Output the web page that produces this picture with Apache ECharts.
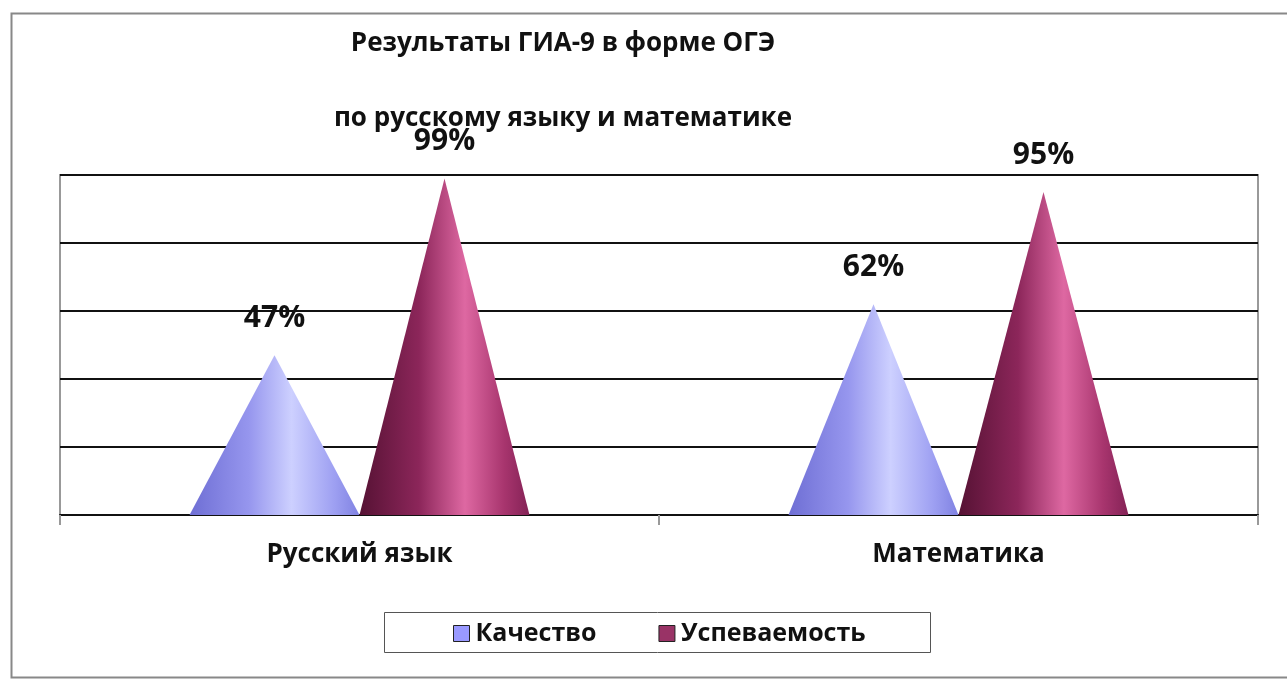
<!DOCTYPE html>
<html>
<head>
<meta charset="utf-8">
<script src="https://cdn.jsdelivr.net/npm/echarts@6/dist/echarts.min.js"></script>
<style>
  html, body { margin: 0; padding: 0; background: #fff; }
  #main { width: 1287px; height: 679px; }
</style>
</head>
<body>
<div id="main"></div>
<script>
// данные диаграммы
const categories = ['Русский язык', 'Математика']
const quality = [47, 62]       // Качество
const success = [99, 95]       // Успеваемость
const seriesNames = ['Качество', 'Успеваемость']

const font = '"Open Sans", "Noto Sans", sans-serif'

// градиенты конусов
const blueCone = new echarts.graphic.LinearGradient(0, 0, 1, 0, [
  { offset: 0, color: '#6e6ed4' },
  { offset: 0.35, color: '#9696ee' },
  { offset: 0.6, color: '#cdd0ff' },
  { offset: 0.85, color: '#9ea0f2' },
  { offset: 1, color: '#8082e2' }
])
const maroonCone = new echarts.graphic.LinearGradient(0, 0, 1, 0, [
  { offset: 0, color: '#561234' },
  { offset: 0.35, color: '#8c265a' },
  { offset: 0.62, color: '#de68a2' },
  { offset: 0.85, color: '#a8356e' },
  { offset: 1, color: '#842256' }
])

const valueLabel = {
  show: true,
  position: 'top',
  distance: 22,
  formatter: '{c}%',
  fontFamily: font,
  fontSize: 30,
  fontWeight: 'bold',
  color: '#111'
}

const chart = echarts.init(document.getElementById('main'))
const option = {
  backgroundColor: '#fff',
  animation: false,
  title: [
    {
      text: 'Результаты ГИА-9 в форме ОГЭ',
      left: 558,
      top: 26,
      textAlign: 'center',
      textStyle: { fontFamily: font, fontSize: 26, fontWeight: 'bold', color: '#111' }
    },
    {
      text: 'по русскому языку и математике',
      left: 558,
      top: 101,
      textAlign: 'center',
      textStyle: { fontFamily: font, fontSize: 26, fontWeight: 'bold', color: '#111' }
    }
  ],
  graphic: [
    {
      type: 'rect',
      left: 9,
      top: 11,
      shape: { width: 1300, height: 664 },
      style: { fill: 'none', stroke: '#888', lineWidth: 2 },
      silent: true,
      z: -1
    },
    {
      type: 'rect',
      left: 384,
      top: 612,
      shape: { width: 546, height: 40 },
      style: { fill: '#fff', stroke: '#555', lineWidth: 1 },
      silent: true,
      z: -1
    }
  ],
  legend: {
    data: [
      { name: seriesNames[0], itemStyle: { color: '#9999ff', borderColor: '#222', borderWidth: 1 } },
      { name: seriesNames[1], itemStyle: { color: '#993366', borderColor: '#222', borderWidth: 1 } }
    ],
    top: 616,
    left: 448,
    itemGap: 62,
    itemWidth: 16,
    itemHeight: 16,
    icon: 'rect',
    textStyle: { fontFamily: font, fontSize: 25, fontWeight: 'bold', color: '#111', padding: [0, 0, 0, 1] }
  },
  grid: {
    left: 60,
    right: 29,
    top: 175,
    bottom: 164,
    show: true,
    borderColor: '#999',
    borderWidth: 2
  },
  xAxis: {
    type: 'category',
    data: categories,
    axisLine: { lineStyle: { color: '#111', width: 2 } },
    axisTick: { show: true, length: 10, lineStyle: { color: '#999', width: 2 } },
    axisLabel: {
      margin: 27,
      fontFamily: font,
      fontSize: 26,
      fontWeight: 'bold',
      color: '#111'
    }
  },
  yAxis: {
    type: 'value',
    min: 0,
    max: 100,
    interval: 20,
    axisLabel: { show: false },
    axisLine: { show: false },
    axisTick: { show: false },
    splitLine: { lineStyle: { color: '#111', width: 2 } }
  },
  series: [
    {
      name: seriesNames[0],
      type: 'pictorialBar',
      symbol: 'triangle',
      barWidth: 170,
      barGap: '0%',
      data: quality,
      itemStyle: { color: blueCone },
      label: valueLabel
    },
    {
      name: seriesNames[1],
      type: 'pictorialBar',
      symbol: 'triangle',
      barWidth: 170,
      barGap: '0%',
      data: success,
      itemStyle: { color: maroonCone },
      label: valueLabel
    }
  ]
}
chart.setOption(option)
</script>
</body>
</html>
